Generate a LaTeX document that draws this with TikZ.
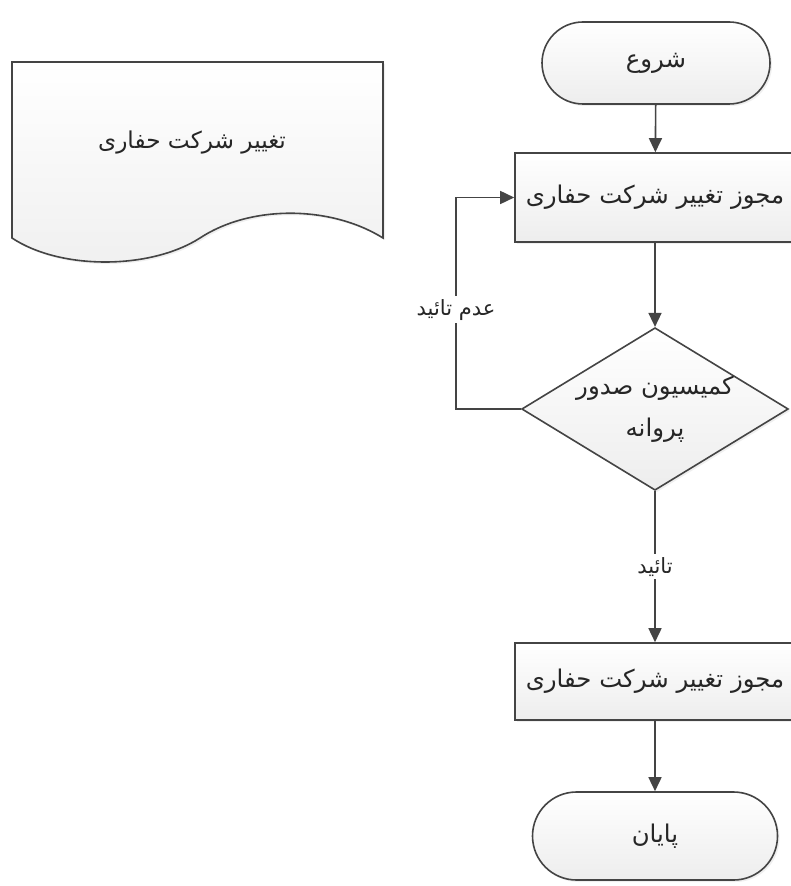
\documentclass[tikz,border=0pt]{standalone}
\usepackage{fontspec}
\newfontfamily\farsi[Script=Arabic]{DejaVu Sans}
\TeXXeTstate=1
\newcommand{\fatext}[1]{\beginR #1\endR}
\usetikzlibrary{shapes.geometric,shapes.misc,arrows.meta,shadows}
\definecolor{edge}{HTML}{444444}
\tikzset{
  flow/.style={draw=edge, line width=0.8pt, top color=white, bottom color=gray!14,
    drop shadow={opacity=0.12, shadow xshift=1pt, shadow yshift=-1pt},
    font=\farsi\fontsize{12.2}{21}\selectfont, text=black!85, inner sep=0pt},
  terminal/.style={flow, rounded rectangle},
  process/.style={flow, rectangle, minimum width=140pt},
  decision/.style={flow, diamond, aspect=1.64, minimum width=132.5pt, minimum height=81pt, align=center},
  link/.style={draw=edge, line width=0.8pt, -{Triangle[length=7pt,width=6.5pt]}},
  edgelabel/.style={fill=white, inner sep=1.5pt, font=\farsi\fontsize{10.5}{12}\selectfont, text=black!85}
}
\begin{document}
\begin{tikzpicture}[x=0.5pt, y=-0.5pt]
\fill[white] (0,0) rectangle (790,886);
\useasboundingbox (0,0) rectangle (790,886);
% document shape
\draw[draw=edge, line width=0.8pt, top color=white, bottom color=gray!12,
  drop shadow={opacity=0.12, shadow xshift=1pt, shadow yshift=-1pt}]
  (12,62) -- (383,62) -- (383,238)
  .. controls (330,205) and (250,205) .. (200,238)
  .. controls (150,270) and (60,270) .. (12,238) -- cycle;
\node[font=\farsi\fontsize{11.6}{15}\selectfont, text=black!85] (doc) at (192,143) {\fatext{تغییر شرکت حفاری}};
% main flow
\node[terminal, minimum width=114pt, minimum height=41pt] (start) at (656,63) {\fatext{شروع}};
\node[process, minimum height=44.5pt] (permit) at (655,197.5) {\fatext{مجوز تغییر شرکت حفاری}};
\node[decision] (commission) at (655,409) {\fatext{کمیسیون صدور}\\\fatext{پروانه}};
\node[process, minimum height=38.5pt] (license) at (655,681.5) {\fatext{مجوز تغییر شرکت حفاری}};
\node[terminal, minimum width=122.5pt, minimum height=44pt] (finish) at (655,836) {\fatext{پایان}};
\coordinate (loop) at (456,409);
\draw[link] (start) -- (permit);
\draw[link] (permit) -- (commission);
\draw[link] (commission.west) -- (loop) -- (loop |- permit.west)
  node[pos=0.47, edgelabel] {\fatext{عدم تائید}} -- (permit.west);
\draw[link] (commission.south) -- (license.north)
  node[pos=0.5, edgelabel] {\fatext{تائید}};
\draw[link] (license) -- (finish);
\end{tikzpicture}
\end{document}
